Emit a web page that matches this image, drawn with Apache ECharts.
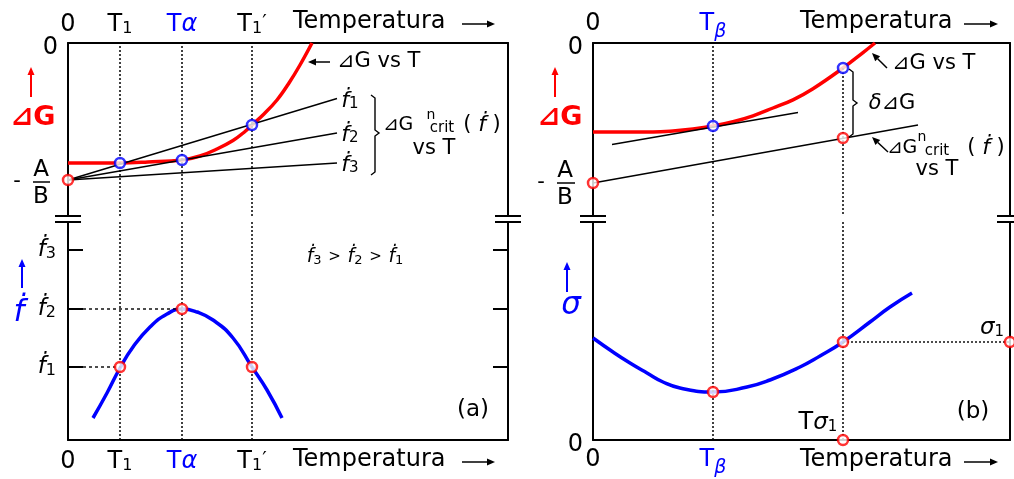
<!DOCTYPE html>
<html>
<head>
<meta charset="utf-8">
<title>ΔG, ḟ y σ frente a la temperatura</title>
<script src="https://cdn.jsdelivr.net/npm/echarts@6.0.0/dist/echarts.min.js"></script>
<style>
  html, body { margin: 0; padding: 0; background: #fff; }
  #chart { width: 1014px; height: 479px; }
</style>
</head>
<body>
<div id="chart"></div>
<script>
// Units are arbitrary (schematic): T counted from the vertical axis,
// ΔG negative downwards from 0, ḟ and σ positive upwards from 0.

// ---- panel (a)
const tempMarksA = [52, 114, 184];                 // T1, Tα, T1′
const tempNamesA = ['{t|T}{s|1}', '{tb|T}{ab|α}', '{t|T}{s|1}{p|′}'];
const dgCurveA = [[0, -120], [52, -120], [80, -119], [114, -117], [132, -113], [149, -106], [165, -97.5],
  [177, -88.5], [184, -82], [196, -71], [209, -57], [221, -40], [232, -22], [244, 0]];
const critStartA = [0, -137];                      // −A/B
const critEndT = 269;
const critEndsA = [-55.5, -90, -120];              // ΔG*crit for ḟ1, ḟ2, ḟ3
const dgHitsA = [[52, -120], [114, -117], [184, -82]];
const rateCurveA = [[25, 22], [39, 47], [52, 72], [65, 93], [82, 113], [99, 126], [114, 131], [129, 128],
  [145, 120], [165, 102], [184, 73], [199, 50], [214, 22]];
const rateTicksA = [73, 131, 190];                 // ḟ1, ḟ2, ḟ3
const rateNamesA = ['{f|ḟ}{s|1}', '{f|ḟ}{s|2}', '{f|ḟ}{s|3}'];
const rateHitsA = [[52, 73], [114, 131], [184, 73]];
const guideStartA = 15;

// ---- panel (b)
const tempMarksB = [120, 250];                     // Tβ, Tσ1
const tempNamesB = ['{tb|T}{bb|β}'];
const dgCurveB = [[0, -89], [60, -89], [80, -88], [100, -86], [120, -83], [140, -78.7], [160, -72.8],
  [180, -65], [200, -56.8], [220, -45.7], [250, -25], [270, -9.6], [282, 0]];
const tangentB = [[19, -101.5], [205, -69.5]];
const critLineB = [[0, -140], [325, -82]];
const dgHitsB = [[120, -83], [250, -25]];
const critHitsB = [[0, -140], [250, -95]];
const sigmaCurveB = [[0, 102], [20, 88], [37, 77], [54, 67], [70, 58], [87, 52], [120, 48], [154, 53],
  [177, 60], [207, 73], [227, 84], [250, 98], [277, 118], [297, 133], [319, 147]];
const sigma1 = 98;

// ---- layout
const FONT = '"DejaVu Sans", sans-serif';
const RED = '#ff0000', BLUE = '#0000ff', INK = '#000';
const A = { left: 68, width: 440 }, B = { left: 593, width: 417 };
const TOP = 43, BREAK_HI = 216, BREAK_LO = 222, BOTTOM = 440;
const DG_MIN = -173, RATE_MAX = 218;

const chart = echarts.init(document.getElementById('chart'));

const RICH_AXIS = {
  t: { fontSize: 24, fontFamily: FONT, color: INK },
  s: { fontSize: 16, fontFamily: FONT, color: INK, verticalAlign: 'bottom' },
  p: { fontSize: 20, fontFamily: FONT, color: INK, verticalAlign: 'top' },
  tb: { fontSize: 24, fontFamily: FONT, color: BLUE, verticalAlign: 'top' },
  tk: { fontSize: 24, fontFamily: FONT, color: INK, verticalAlign: 'top' },
  ab: { fontSize: 24, fontFamily: FONT, fontStyle: 'italic', color: BLUE, verticalAlign: 'top' },
  bb: { fontSize: 19, fontFamily: FONT, fontStyle: 'italic', color: BLUE, verticalAlign: 'top', padding: [11, 0, 0, 0] },
  e: { fontSize: 19, fontFamily: FONT, verticalAlign: 'top', padding: [11, 0, 0, 0], width: 0 },
  f: { fontSize: 23, fontFamily: FONT, fontStyle: 'italic', color: INK },
  z: { fontSize: 24, fontFamily: FONT, color: INK, padding: [10, 0, 0, 0] }
};

function grid(p, top, height) {
  return { left: p.left, width: p.width, top, height, outerBoundsMode: 'none', containLabel: false, show: false };
}

function xAxisFor(gridIndex, position, max, values, names, zeroName, margin) {
  return {
    type: 'value', gridIndex, position, min: 0, max,
    axisLine: { show: true, onZero: false, lineStyle: { color: INK, width: 2 } },
    axisTick: { show: false }, splitLine: { show: false },
    axisLabel: {
      margin, fontSize: 24, fontFamily: FONT, color: INK, rich: RICH_AXIS,
      customValues: [0].concat(values),
      formatter: v => (v === 0 ? zeroName : names[values.indexOf(v)])
    }
  };
}

function yAxisFor(gridIndex, position, min, max, extra) {
  return Object.assign({
    type: 'value', gridIndex, position, min, max,
    axisLine: { show: true, onZero: false, lineStyle: { color: INK, width: 2 } },
    axisTick: { show: false }, splitLine: { show: false }, axisLabel: { show: false }
  }, extra || {});
}

const zeroLabel = { show: true, customValues: [0], formatter: () => '{z|0}', margin: 10, rich: RICH_AXIS,
  fontSize: 24, fontFamily: FONT, color: INK };
const rateTicks = { show: true, inside: true, length: 15, customValues: rateTicksA, lineStyle: { color: INK, width: 2 } };

function line(xi, yi, data, color, width, extra) {
  return Object.assign({
    type: 'line', xAxisIndex: xi, yAxisIndex: yi, data, symbol: 'none', showSymbol: false,
    lineStyle: { color, width }, silent: true, z: 3
  }, extra || {});
}
function rings(xi, yi, data, color) {
  return {
    type: 'scatter', xAxisIndex: xi, yAxisIndex: yi, data, symbol: 'circle', symbolSize: 10, clip: false,
    itemStyle: { color: '#fff', borderColor: color, borderWidth: 2.5 }, silent: true, z: 6
  };
}
function dotted(data) {
  return { silent: true, symbol: 'none', label: { show: false }, lineStyle: { color: INK, width: 1.5, type: [2, 2] }, data };
}
const guideStyle = { lineStyle: { color: INK, width: 1.4, type: [3, 3] } };

const series = [
  // (a) upper: ΔG
  line(0, 0, dgCurveA, RED, 3.5, { smooth: 0.4, markLine: dotted(tempMarksA.map(v => ({ xAxis: v }))) }),
  ...critEndsA.map(y => line(0, 0, [critStartA, [critEndT, y]], INK, 1.4)),
  rings(0, 0, dgHitsA, BLUE),
  rings(0, 0, [critStartA], RED),
  // (a) lower: ḟ
  line(1, 2, rateCurveA, BLUE, 3.5, { smooth: 0.5, markLine: dotted(tempMarksA.map(v => ({ xAxis: v }))) }),
  line(1, 2, [[guideStartA, rateHitsA[1][1]], rateHitsA[1]], INK, 1.4, guideStyle),
  line(1, 2, [[guideStartA, rateHitsA[0][1]], rateHitsA[0]], INK, 1.4, guideStyle),
  rings(1, 2, rateHitsA, RED),
  // (b) upper: ΔG
  line(2, 4, dgCurveB, RED, 3.5, {
    smooth: 0.4,
    markLine: dotted([{ xAxis: tempMarksB[0] },
      [{ coord: [tempMarksB[1], dgHitsB[1][1]] }, { coord: [tempMarksB[1], DG_MIN] }]])
  }),
  line(2, 4, tangentB, INK, 1.4),
  line(2, 4, critLineB, INK, 1.4),
  rings(2, 4, dgHitsB, BLUE),
  rings(2, 4, critHitsB, RED),
  // (b) lower: σ
  line(3, 6, sigmaCurveB, BLUE, 3.5, { smooth: 0.5, markLine: dotted(tempMarksB.map(v => ({ xAxis: v }))) }),
  line(3, 6, [[tempMarksB[1], sigma1], [B.width, sigma1]], INK, 1.4, { lineStyle: { color: INK, width: 1.4, type: [2, 2] } }),
  rings(3, 6, [[tempMarksB[0], sigmaCurveB[6][1]], [tempMarksB[1], sigma1], [B.width, sigma1], [tempMarksB[1], 0]], RED)
];

// ---- annotations
function txt(x, y, text, size, extra) {
  return { type: 'text', x, y, silent: true, z: 10,
    style: Object.assign({ text, fill: INK, fontSize: size, fontFamily: FONT, align: 'center', verticalAlign: 'middle' }, extra || {}) };
}
function seg(x1, y1, x2, y2, color, width) {
  return { type: 'line', silent: true, z: 10, shape: { x1, y1, x2, y2 }, style: { stroke: color, lineWidth: width || 1.5 } };
}
function arrow(x1, y1, x2, y2, color, width) {
  const a = Math.atan2(y2 - y1, x2 - x1), len = 8, half = 3.5;
  const bx = x2 - len * Math.cos(a), by = y2 - len * Math.sin(a);
  const px = -Math.sin(a) * half, py = Math.cos(a) * half;
  return [seg(x1, y1, bx, by, color, width || 1.5),
    { type: 'polygon', silent: true, z: 10, shape: { points: [[x2, y2], [bx + px, by + py], [bx - px, by - py]] }, style: { fill: color } }];
}
const RICH_G = {
  f: { fontSize: 22, fontFamily: FONT, fontStyle: 'italic', fill: INK },
  s: { fontSize: 15, fontFamily: FONT, fill: INK, verticalAlign: 'bottom' },
  o: { fontSize: 15, fontFamily: FONT, fill: INK },
  n: { fontSize: 21, fontFamily: FONT, fill: INK },
  i: { fontSize: 21, fontFamily: FONT, fontStyle: 'italic', fill: INK },
  T: { fontSize: 24, fontFamily: FONT, fill: INK },
  g: { fontSize: 23, fontFamily: FONT, fontStyle: 'italic', fill: INK }
};
function rich(x, y, text, extra) {
  return txt(x, y, text, 21, Object.assign({ rich: RICH_G }, extra || {}));
}
const RICH_SMALL = Object.assign({}, RICH_G, {
  f: Object.assign({}, RICH_G.f, { fontSize: 19 }),
  s: Object.assign({}, RICH_G.s, { fontSize: 13 })
});

const graphics = [];
// axis breaks
[A.left, A.left + A.width, B.left, B.left + B.width].forEach(x =>
  [BREAK_HI, BREAK_LO].forEach(y => graphics.push(seg(x - 13, y, x + 13, y, INK, 2))));
// temperature captions
[[293, 22, 462, 495], [293, 460, 462, 495], [800, 22, 964, 998], [800, 460, 964, 998]].forEach(([x, y, a1, a2]) => {
  graphics.push(txt(x, y, 'Temperatura', 24, { align: 'left' }));
  graphics.push(...arrow(a1, y + 2, a2, y + 2, INK, 1.5));
});
// quantity captions
graphics.push(txt(33, 118, '⊿G', 27, { fill: RED, fontWeight: 'bold' }));
graphics.push(...arrow(31, 97, 31, 67, RED, 2));
graphics.push(txt(560, 118, '⊿G', 27, { fill: RED, fontWeight: 'bold' }));
graphics.push(...arrow(555, 97, 555, 67, RED, 2));
graphics.push(txt(19, 313, 'ḟ', 31, { fill: BLUE, fontStyle: 'italic' }));
graphics.push(...arrow(22, 288, 22, 259, BLUE, 2));
graphics.push(txt(571, 306, 'σ', 31, { fill: BLUE, fontStyle: 'italic' }));
graphics.push(...arrow(567, 292, 567, 262, BLUE, 2));
// −A/B
[[17, 41, 33, 50, 182], [541, 565, 557, 575, 183]].forEach(([mx, cx, b1, b2, y]) => {
  graphics.push(txt(mx, y, '-', 21));
  graphics.push(txt(cx, y - 12, 'A', 23));
  graphics.push(seg(b1, y, b2, y, INK, 1.5));
  graphics.push(txt(cx, y + 15, 'B', 23));
});
// (a) annotations
graphics.push(txt(337, 62, '⊿G vs T', 21, { align: 'left' }));
graphics.push(...arrow(330, 62, 308, 62, INK, 1.5));
graphics.push(rich(350, 101, '{f|ḟ}{s|1}'));
graphics.push(rich(350, 135, '{f|ḟ}{s|2}'));
graphics.push(rich(350, 165, '{f|ḟ}{s|3}'));
graphics.push({ type: 'polyline', silent: true, z: 10,
  shape: { points: [[371, 95], [375, 98], [375, 130], [379, 133], [375, 136], [375, 172], [371, 175]] },
  style: { stroke: INK, lineWidth: 1.4, fill: null } });
graphics.push(txt(398, 125, '⊿G', 19));
graphics.push(txt(431, 115, 'n', 14));
graphics.push(txt(442, 128, 'crit', 15));
graphics.push(rich(482, 125, '{n|(} {f|ḟ} {n|)}'));
graphics.push(txt(434, 149, 'vs T', 21));
graphics.push(rich(355, 257, '{f|ḟ}{s|3} {o|>} {f|ḟ}{s|2} {o|>} {f|ḟ}{s|1}', { rich: RICH_SMALL }));
graphics.push(txt(473, 410, '(a)', 23));
// (b) annotations
graphics.push(txt(892, 64, '⊿G vs T', 21, { align: 'left' }));
graphics.push(...arrow(887, 68, 872, 53, INK, 1.5));
graphics.push(rich(892, 104, '{i|δ}{n|⊿G}'));
graphics.push({ type: 'polyline', silent: true, z: 10,
  shape: { points: [[849, 69], [853, 72], [853, 100], [857, 103], [853, 106], [853, 134], [849, 137]] },
  style: { stroke: INK, lineWidth: 1.4, fill: null } });
graphics.push(txt(902, 148, '⊿G', 19));
graphics.push(txt(922, 137, 'n', 14));
graphics.push(txt(937, 151, 'crit', 15));
graphics.push(rich(986, 148, '{n|(} {f|ḟ} {n|)}'));
graphics.push(txt(937, 170, 'vs T', 21));
graphics.push(...arrow(888, 152, 872, 137, INK, 1.5));
graphics.push(rich(818, 423, '{T|T}{g|σ}{s|1}'));
graphics.push(rich(992, 328, '{g|σ}{s|1}'));
graphics.push(txt(973, 412, '(b)', 23));

const zeroB = '{tk|0}{e| }';

chart.setOption({
  animation: false,
  backgroundColor: '#fff',
  grid: [
    grid(A, TOP, BREAK_HI - TOP), grid(A, BREAK_LO, BOTTOM - BREAK_LO),
    grid(B, TOP, BREAK_HI - TOP), grid(B, BREAK_LO, BOTTOM - BREAK_LO)
  ],
  xAxis: [
    xAxisFor(0, 'top', A.width, tempMarksA, tempNamesA, '0', 6),
    xAxisFor(1, 'bottom', A.width, tempMarksA, tempNamesA, '0', 10),
    xAxisFor(2, 'top', B.width, tempMarksB.slice(0, 1), tempNamesB, zeroB, 1),
    xAxisFor(3, 'bottom', B.width, tempMarksB.slice(0, 1), tempNamesB, zeroB, 8)
  ],
  yAxis: [
    yAxisFor(0, 'left', DG_MIN, 0, { axisLabel: zeroLabel }),
    yAxisFor(0, 'right', DG_MIN, 0),
    yAxisFor(1, 'left', 0, RATE_MAX, {
      axisTick: rateTicks,
      axisLabel: { show: true, customValues: rateTicksA, formatter: v => rateNamesA[rateTicksA.indexOf(v)], margin: 12, rich: RICH_AXIS }
    }),
    yAxisFor(1, 'right', 0, RATE_MAX, { axisTick: rateTicks }),
    yAxisFor(2, 'left', DG_MIN, 0, { axisLabel: zeroLabel }),
    yAxisFor(2, 'right', DG_MIN, 0),
    yAxisFor(3, 'left', 0, RATE_MAX, { axisLabel: zeroLabel }),
    yAxisFor(3, 'right', 0, RATE_MAX)
  ],
  series,
  graphic: graphics
});
</script>
</body>
</html>
